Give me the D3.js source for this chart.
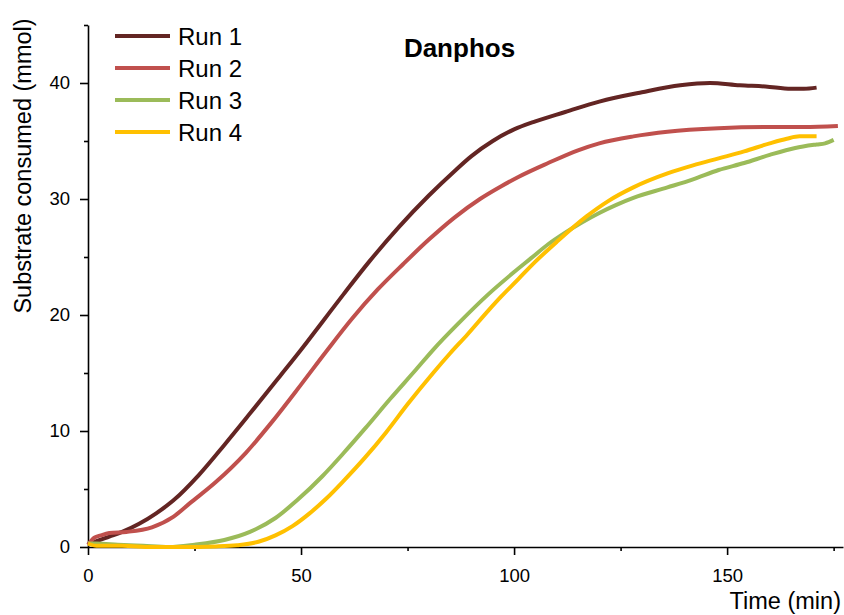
<!DOCTYPE html>
<html>
<head>
<meta charset="utf-8">
<script src="https://cdn.jsdelivr.net/npm/d3@7"></script>
<style>
  html, body { margin: 0; padding: 0; background: #fff; }
  svg { display: block; font-family: Arial, "Liberation Sans", sans-serif; }
</style>
</head>
<body>
<svg id="chart" width="844" height="615"></svg>
<script>
// ---- data ----
const seriesNames = ["Run 1", "Run 2", "Run 3", "Run 4"];
const seriesColors = ["#632523", "#C0504D", "#9BBB59", "#FFC000"];

const run1Time = [0, 2, 5, 8, 12, 16, 20, 26, 32, 38, 45, 50, 55, 60, 66, 73, 80, 86, 90, 95, 100, 105, 112, 120, 130, 139, 146, 153, 159, 165, 168, 171];
const run1Val  = [0.2, 0.5, 0.9, 1.3, 2.0, 2.9, 4.0, 6.2, 8.8, 11.5, 14.7, 17.0, 19.4, 21.8, 24.6, 27.6, 30.3, 32.4, 33.7, 35.0, 36.0, 36.7, 37.5, 38.4, 39.2, 39.8, 40.0, 39.8, 39.7, 39.5, 39.5, 39.6];

const run2Time = [0, 1.5, 3, 5, 9, 15, 20, 24, 30, 37, 43, 50, 56, 62, 68, 74, 80, 86, 92, 97, 101, 108, 115, 120, 128, 136, 148, 160, 168, 176];
const run2Val  = [0.2, 0.8, 1.0, 1.2, 1.3, 1.7, 2.6, 3.8, 5.6, 8.1, 10.7, 14.0, 16.9, 19.7, 22.2, 24.4, 26.5, 28.4, 30.0, 31.1, 31.9, 33.1, 34.2, 34.8, 35.4, 35.8, 36.1, 36.2, 36.2, 36.3];

const run3Time = [0, 2, 7, 13, 19, 25, 32, 38, 44, 49, 55, 60, 65, 71, 77, 81, 87, 94, 100, 104, 108, 112, 116, 120, 124, 128, 136, 142, 148, 154, 160, 166, 171, 173, 175];
const run3Val  = [0.3, 0.3, 0.2, 0.1, 0.0, 0.2, 0.6, 1.3, 2.5, 4.0, 6.1, 8.1, 10.2, 12.8, 15.3, 17.0, 19.3, 21.8, 23.7, 24.9, 26.1, 27.1, 28.0, 28.8, 29.5, 30.1, 31.0, 31.7, 32.5, 33.1, 33.8, 34.4, 34.7, 34.8, 35.1];

const run4Time = [0, 2, 8, 15, 22, 30, 35, 40, 44, 48, 52, 56, 60, 65, 70, 75, 81, 85, 89, 94, 97, 101, 105, 110, 117, 122, 128, 136, 142, 148, 154, 160, 164, 167, 171];
const run4Val  = [0.3, 0.1, 0.1, 0.0, 0.0, 0.05, 0.15, 0.45, 1.0, 1.8, 2.9, 4.2, 5.7, 7.7, 9.9, 12.3, 15.0, 16.7, 18.3, 20.4, 21.6, 23.1, 24.6, 26.3, 28.5, 29.8, 31.0, 32.2, 32.9, 33.5, 34.1, 34.8, 35.2, 35.4, 35.4];

const xMajorTicks = [0, 50, 100, 150];
const xMinorTicks = [25, 75, 125, 175];
const yMajorTicks = [0, 10, 20, 30, 40];
const yMinorTicks = [5, 15, 25, 35, 45];

const titleText = "Danphos";
const xLabel = "Time (min)";
const yLabel = "Substrate consumed (mmol)";

// ---- drawing ----
const svg = d3.select("#chart");
const x = d3.scaleLinear().domain([0, 177.2]).range([88, 843]);
const y = d3.scaleLinear().domain([0, 45]).range([547, 25]);

const series = [
  { name: seriesNames[0], color: seriesColors[0], t: run1Time, v: run1Val },
  { name: seriesNames[1], color: seriesColors[1], t: run2Time, v: run2Val },
  { name: seriesNames[2], color: seriesColors[2], t: run3Time, v: run3Val },
  { name: seriesNames[3], color: seriesColors[3], t: run4Time, v: run4Val }
];

// axes
function styleAxis(g) {
  g.selectAll("path.domain").attr("stroke", "#000").attr("stroke-width", 1.6);
  g.selectAll(".tick line").attr("stroke", "#000").attr("stroke-width", 1.6);
  g.selectAll(".tick text").attr("fill", "#000").attr("font-size", "18.5px")
    .attr("font-family", "Arial, 'Liberation Sans', sans-serif");
}

const xAxisMajor = svg.append("g").attr("transform", `translate(0,${y(0)})`)
  .call(d3.axisBottom(x).tickValues(xMajorTicks).tickSize(8).tickSizeOuter(0).tickPadding(14).tickFormat(d3.format("d")));
styleAxis(xAxisMajor);
const xAxisMinor = svg.append("g").attr("transform", `translate(0,${y(0)})`)
  .call(d3.axisBottom(x).tickValues(xMinorTicks).tickSize(4).tickSizeOuter(0).tickFormat(""));
styleAxis(xAxisMinor);
xAxisMinor.select("path.domain").remove();

const yAxisMajor = svg.append("g").attr("transform", `translate(${x(0)},0)`)
  .call(d3.axisLeft(y).tickValues(yMajorTicks).tickSize(8).tickSizeOuter(0).tickPadding(10).tickFormat(d3.format("d")));
styleAxis(yAxisMajor);
const yAxisMinor = svg.append("g").attr("transform", `translate(${x(0)},0)`)
  .call(d3.axisLeft(y).tickValues(yMinorTicks).tickSize(4).tickSizeOuter(0).tickFormat(""));
styleAxis(yAxisMinor);
yAxisMinor.select("path.domain").remove();

// lines
const line = d3.line()
  .x(d => x(d[0]))
  .y(d => y(d[1]))
  .curve(d3.curveMonotoneX);

svg.append("g").selectAll("path.series")
  .data(series)
  .join("path")
  .attr("class", "series")
  .attr("fill", "none")
  .attr("stroke", d => d.color)
  .attr("stroke-width", 4)
  .attr("stroke-linejoin", "round")
  .attr("stroke-linecap", "butt")
  .attr("d", d => line(d.t.map((t, i) => [t, d.v[i]])));

// legend
const legend = svg.append("g");
series.forEach((s, i) => {
  const ly = 36 + i * 32;
  legend.append("line")
    .attr("x1", 115).attr("x2", 170).attr("y1", ly).attr("y2", ly)
    .attr("stroke", s.color).attr("stroke-width", 4);
  legend.append("text")
    .attr("x", 178).attr("y", ly + 8.6)
    .attr("font-size", "24px").attr("fill", "#000")
    .text(s.name);
});

// title
svg.append("text")
  .attr("x", 459.5).attr("y", 57)
  .attr("text-anchor", "middle")
  .attr("font-size", "26px").attr("font-weight", "bold").attr("fill", "#000")
  .text(titleText);

// axis labels
svg.append("text")
  .attr("x", 841).attr("y", 609)
  .attr("text-anchor", "end")
  .attr("font-size", "23.5px").attr("fill", "#000")
  .text(xLabel);

svg.append("text")
  .attr("transform", "translate(31,166) rotate(-90)")
  .attr("text-anchor", "middle")
  .attr("font-size", "23.5px").attr("fill", "#000")
  .text(yLabel);
</script>
</body>
</html>
